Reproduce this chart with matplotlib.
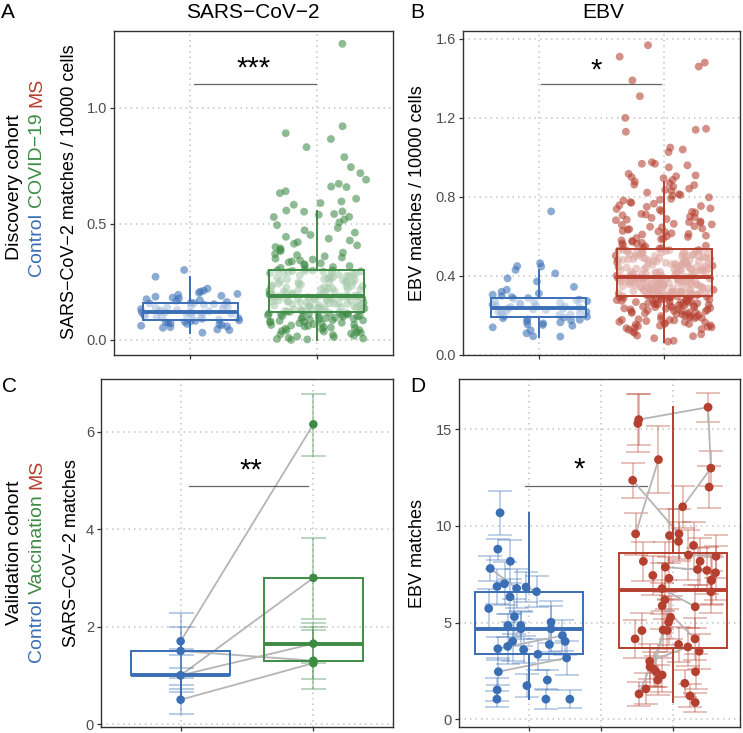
import numpy as np
import matplotlib
matplotlib.use("Agg")
import matplotlib.pyplot as plt

plt.rcParams['font.family'] = ['Liberation Sans', 'DejaVu Sans']

BLUE = "#3a6eb5"
GREEN = "#3d8b45"
RED = "#b5402f"

# ---------------- data ----------------
groups_disc = ["Control", "COVID\u221219", "MS"]
groups_val = ["Control", "Vaccination", "MS"]

a_ctrl = [0.031, 0.042, 0.045, 0.052, 0.055, 0.058, 0.061, 0.064, 0.066, 0.069, 0.071, 0.074, 0.076, 0.079, 0.080, 0.082, 0.084,
          0.088, 0.091, 0.094, 0.097, 0.099, 0.102, 0.104, 0.107, 0.109, 0.111, 0.113, 0.115, 0.116, 0.117, 0.118, 0.119,
          0.121, 0.124, 0.127, 0.129, 0.132, 0.135, 0.137, 0.140, 0.143, 0.146, 0.149, 0.152, 0.154, 0.157, 0.158, 0.160,
          0.163, 0.167, 0.171, 0.175, 0.178, 0.182, 0.186, 0.190, 0.194, 0.198, 0.203, 0.208, 0.212, 0.221, 0.272, 0.301]

a_covid = [0.000, 0.002, 0.004, 0.006, 0.009, 0.012, 0.015, 0.018, 0.021, 0.024, 0.027, 0.030, 0.033, 0.036, 0.038,
           0.041, 0.043, 0.046, 0.048, 0.051, 0.053, 0.055, 0.058, 0.060, 0.062, 0.064, 0.066, 0.068, 0.070, 0.072,
           0.074, 0.076, 0.078, 0.080, 0.082, 0.084, 0.085, 0.087, 0.089, 0.090, 0.092, 0.094, 0.095, 0.097, 0.098,
           0.100, 0.101, 0.103, 0.104, 0.106, 0.107, 0.109, 0.110, 0.112, 0.113, 0.114, 0.116, 0.117, 0.118, 0.119,
           0.121, 0.122, 0.124, 0.125, 0.126, 0.128, 0.129, 0.130, 0.131, 0.133, 0.134, 0.135, 0.137, 0.138, 0.139,
           0.140, 0.142, 0.143, 0.144, 0.146, 0.147, 0.148, 0.149, 0.151, 0.152, 0.153, 0.155, 0.156, 0.157, 0.158,
           0.160, 0.161, 0.162, 0.164, 0.165, 0.166, 0.167, 0.169, 0.170, 0.171, 0.173, 0.174, 0.175, 0.176, 0.178,
           0.179, 0.180, 0.181, 0.182, 0.183, 0.184, 0.185, 0.186, 0.187, 0.188, 0.189, 0.189, 0.190, 0.190, 0.191,
           0.193, 0.195, 0.196, 0.198, 0.200, 0.202, 0.203, 0.205, 0.207, 0.209, 0.210, 0.212, 0.214, 0.216, 0.218,
           0.219, 0.221, 0.223, 0.225, 0.227, 0.229, 0.231, 0.232, 0.234, 0.236, 0.238, 0.240, 0.242, 0.244, 0.246,
           0.248, 0.250, 0.252, 0.254, 0.256, 0.258, 0.260, 0.262, 0.264, 0.266, 0.268, 0.270, 0.272, 0.274, 0.276,
           0.278, 0.280, 0.282, 0.284, 0.286, 0.288, 0.290, 0.292, 0.294, 0.295, 0.296, 0.297, 0.298, 0.299, 0.300,
           0.305, 0.310, 0.314, 0.318, 0.322, 0.326, 0.330, 0.334, 0.338, 0.342, 0.346, 0.350, 0.355, 0.360, 0.365,
           0.370, 0.376, 0.382, 0.388, 0.394, 0.400, 0.407, 0.414, 0.421, 0.428, 0.436, 0.444, 0.452, 0.462, 0.472,
           0.482, 0.494, 0.506, 0.518, 0.530, 0.542, 0.552, 0.529, 0.539, 0.553, 0.557, 0.582, 0.589, 0.596, 0.608,
           0.632, 0.640, 0.658, 0.660, 0.672, 0.690, 0.718, 0.744, 0.787, 0.830, 0.865, 0.890, 0.920, 1.275]

b_ctrl = [0.093, 0.095, 0.110, 0.125, 0.140, 0.148, 0.152, 0.155, 0.160, 0.165, 0.170, 0.175, 0.178, 0.182, 0.186,
          0.190, 0.194, 0.198, 0.202, 0.206, 0.210, 0.213, 0.216, 0.219, 0.222, 0.225, 0.228, 0.231, 0.234, 0.237,
          0.240, 0.243, 0.246, 0.249, 0.252, 0.255, 0.258, 0.261, 0.264, 0.267, 0.270, 0.273, 0.276, 0.280, 0.284,
          0.288, 0.293, 0.298, 0.305, 0.312, 0.320, 0.330, 0.345, 0.372, 0.388, 0.413, 0.431, 0.448, 0.450, 0.465, 0.727]

b_ms = [0.068, 0.085, 0.095, 0.105, 0.118, 0.128, 0.136, 0.140, 0.143, 0.146, 0.150, 0.155, 0.158, 0.162, 0.165,
        0.168, 0.172, 0.175, 0.178, 0.181, 0.184, 0.187, 0.190, 0.193, 0.196, 0.199, 0.202, 0.205, 0.208, 0.211,
        0.213, 0.216, 0.219, 0.221, 0.224, 0.226, 0.229, 0.231, 0.234, 0.236, 0.238, 0.241, 0.243, 0.245, 0.248,
        0.250, 0.252, 0.254, 0.256, 0.258, 0.260, 0.262, 0.264, 0.266, 0.268, 0.270, 0.272, 0.274, 0.276, 0.278,
        0.280, 0.281, 0.283, 0.285, 0.286, 0.288, 0.289, 0.291, 0.292, 0.294, 0.295, 0.296, 0.297, 0.298, 0.299,
        0.072, 0.098, 0.112, 0.131, 0.139, 0.149, 0.157, 0.166, 0.177, 0.186, 0.197, 0.207, 0.215, 0.223, 0.233,
        0.242, 0.251, 0.259, 0.267, 0.277, 0.287, 0.293,
        0.301, 0.302, 0.304, 0.305, 0.306, 0.308, 0.309, 0.310, 0.312, 0.313, 0.314, 0.316, 0.317, 0.318, 0.320,
        0.321, 0.322, 0.324, 0.325, 0.327, 0.328, 0.330, 0.331, 0.333, 0.334, 0.336, 0.337, 0.339, 0.340, 0.342,
        0.343, 0.344, 0.346, 0.347, 0.349, 0.350, 0.352, 0.353, 0.354, 0.356, 0.357, 0.359, 0.360, 0.361, 0.363,
        0.364, 0.366, 0.367, 0.368, 0.370, 0.371, 0.372, 0.374, 0.375, 0.376, 0.378, 0.379, 0.380, 0.381, 0.383,
        0.384, 0.385, 0.386, 0.387, 0.388, 0.389, 0.390, 0.391, 0.392, 0.393, 0.393, 0.394, 0.395, 0.395, 0.396,
        0.303, 0.307, 0.311, 0.315, 0.319, 0.323, 0.329, 0.335, 0.341, 0.345, 0.351, 0.355, 0.358, 0.362, 0.365,
        0.369, 0.373, 0.377, 0.382, 0.386, 0.390, 0.394,
        0.398, 0.400, 0.402, 0.404, 0.406, 0.408, 0.410, 0.412, 0.414, 0.416, 0.418, 0.420, 0.421, 0.423, 0.425,
        0.427, 0.429, 0.431, 0.433, 0.435, 0.437, 0.438, 0.440, 0.442, 0.444, 0.446, 0.448, 0.450, 0.452, 0.454,
        0.455, 0.457, 0.459, 0.461, 0.463, 0.465, 0.467, 0.469, 0.471, 0.473, 0.474, 0.476, 0.478, 0.480, 0.482,
        0.484, 0.486, 0.488, 0.490, 0.491, 0.493, 0.495, 0.497, 0.499, 0.501, 0.503, 0.505, 0.507, 0.508, 0.510,
        0.512, 0.514, 0.516, 0.518, 0.520, 0.521, 0.523, 0.524, 0.526, 0.527, 0.529, 0.530, 0.531, 0.532, 0.533,
        0.399, 0.405, 0.411, 0.417, 0.422, 0.428, 0.434, 0.439, 0.445, 0.451, 0.456, 0.462, 0.468, 0.475, 0.481,
        0.487, 0.494, 0.500, 0.506, 0.513, 0.519, 0.525,
        0.538, 0.544, 0.550, 0.556, 0.562, 0.568, 0.574, 0.580, 0.586, 0.592, 0.598, 0.604, 0.610, 0.616, 0.622,
        0.628, 0.634, 0.640, 0.646, 0.652, 0.658, 0.664, 0.670, 0.676, 0.682, 0.688, 0.694, 0.700, 0.707, 0.714,
        0.721, 0.728, 0.735, 0.742, 0.750, 0.758, 0.766, 0.774, 0.782, 0.790, 0.798, 0.806, 0.814, 0.822, 0.832,
        0.842, 0.852, 0.860, 0.870, 0.878, 0.886, 0.895, 0.900, 0.905, 0.909, 0.917, 0.950, 0.960, 0.968, 0.968,
        0.976, 1.027, 1.040, 1.050, 1.130, 1.140, 1.145, 1.200, 1.310, 1.390, 1.460, 1.480, 1.510, 1.568, 0.862,
        0.541, 0.553, 0.565, 0.577, 0.589, 0.601, 0.613, 0.625, 0.637, 0.649, 0.661, 0.673, 0.685, 0.697, 0.711,
        0.725, 0.739, 0.754, 0.770, 0.786, 0.810, 0.836]

c_ctrl = [1.7, 1.0, 1.0, 1.5, 0.5]
c_ctrl_lo = [1.15, 0.72, 0.65, 0.95, 0.20]
c_ctrl_hi = [2.27, 1.55, 1.42, 2.00, 0.80]
c_vacc = [6.15, 3.0, 1.65, 1.3, 1.25]
c_vacc_lo = [5.50, 2.15, 1.25, 0.92, 0.71]
c_vacc_hi = [6.77, 3.82, 2.07, 2.00, 1.93]

d_ctrl = [10.68, 8.80, 8.17, 7.80, 7.01, 6.87, 6.84, 6.77, 6.60, 6.33,
          5.73, 5.31, 5.02, 4.85, 4.85, 4.68, 4.68, 4.33, 4.03, 4.03,
          3.87, 3.77, 3.65, 3.60, 3.36, 3.17, 2.46, 2.03, 1.74, 1.52,
          1.04, 1.04, 1.04]
d_ctrl_err = [1.15, 0.55, 1.1, 0.65, 1.1, 0.9, 0.8, 1.0, 0.8, 0.9,
              1.0, 0.9, 1.1, 0.6, 0.7, 1.2, 0.9, 0.8, 0.7, 1.0,
              0.8, 0.9, 0.6, 0.7, 0.8, 0.9, 0.7, 0.5, 0.6, 0.6,
              0.45, 0.5, 0.4]
d_ms = [16.14, 15.50, 15.30, 13.43, 12.99, 12.36, 12.01, 10.99, 9.59, 9.59,
        9.50, 9.20, 8.99, 8.50, 8.43, 8.17, 8.17, 7.87, 7.75, 7.70,
        7.58, 7.44, 7.29, 7.20, 7.18, 6.76, 6.59, 6.18, 5.87, 5.82,
        5.27, 5.02, 4.62, 4.59, 4.59, 4.16, 4.16, 3.87, 3.74, 3.52,
        3.00, 2.71, 2.59, 2.46, 2.46, 2.29, 2.03, 1.86, 1.57, 1.31,
        1.21, 0.87]
d_ms_err = [0.75, 1.3, 1.5, 1.75, 0.9, 0.9, 1.1, 1.1, 1.1, 1.3,
            1.4, 1.0, 1.2, 1.3, 1.1, 1.0, 1.2, 1.3, 1.1, 1.2,
            1.4, 1.0, 1.1, 1.3, 1.2, 1.3, 1.1, 1.0, 1.2, 1.1,
            1.1, 1.2, 1.0, 1.1, 0.9, 1.0, 1.1, 0.9, 1.0, 0.9,
            0.9, 1.0, 0.9, 0.8, 0.9, 0.9, 0.8, 0.7, 0.8, 0.6,
            0.6, 0.5]
# repeated-sample links (index pairs within group)
d_ctrl_links = [(3, 7), (8, 6), (26, 25), (17, 22), (14, 19)]
d_ms_links = [(3, 8), (0, 4), (0, 1), (4, 7), (5, 9), (17, 19), (25, 29), (38, 40),
              (40, 46), (32, 42), (49, 31), (28, 36), (13, 14)]

sig_labels = ["***", "*", "**", "*"]

# ---------------- figure ----------------
W, H = 743, 733
fig = plt.figure(figsize=(W / 100, H / 100), dpi=100)


def axes_px(left, top, right, bottom):
    return fig.add_axes([left / W, 1 - bottom / H, (right - left) / W, (bottom - top) / H])


axA = axes_px(114, 31, 393, 355)
axB = axes_px(463, 31, 740, 355)
axC = axes_px(101, 379, 393, 727)
axD = axes_px(459, 379, 740, 727)


def style(ax, xlim, ylim, yticks, yticklabels, xticks):
    ax.set_xlim(*xlim)
    ax.set_ylim(*ylim)
    ax.set_yticks(yticks)
    ax.set_yticklabels(yticklabels)
    ax.set_xticks(xticks)
    ax.set_xticklabels([])
    ax.set_axisbelow(True)
    ax.grid(True, color='#c4c4c4', linestyle=(0, (1, 2.6)), linewidth=1.1)
    for s in ax.spines.values():
        s.set_color('#333333')
        s.set_linewidth(1.0)
    ax.tick_params(axis='both', length=3, width=0.9, color='#333333')
    ax.tick_params(axis='x', labelbottom=False)
    ax.tick_params(axis='y', labelsize=10.5, labelcolor='#4d4d4d', pad=2)


rng = np.random.default_rng(7)


def jitter(n, width):
    # horizontal jitter (position only, like geom_jitter)
    return rng.uniform(-width, width, n)


def box(ax, data, pos, color, fill, whis=1.5, width=0.75):
    ax.boxplot([data], positions=[pos], widths=width, whis=whis, patch_artist=True,
               showcaps=False, showfliers=False, zorder=3,
               boxprops=dict(facecolor=fill, edgecolor=color, linewidth=1.4),
               medianprops=dict(color=color, linewidth=2.8, solid_capstyle='butt'),
               whiskerprops=dict(color=color, linewidth=1.4))


# Panel A
for vals, pos, col in [(a_ctrl, 1, BLUE), (a_covid, 2, GREEN)]:
    axA.scatter(pos + jitter(len(vals), 0.39), vals, s=32, color=col, alpha=0.58,
                edgecolors='none', zorder=2)
    box(axA, vals, pos, col, (1, 1, 1, 0.55))
axA.plot([1.03, 1.99], [1.10, 1.10], color='#666666', lw=0.9)
axA.text(1.5, 1.17, sig_labels[0], ha='center', va='center', fontsize=21)
style(axA, (0.4, 2.6), (-0.065, 1.33), [0.0, 0.5, 1.0], ["0.0", "0.5", "1.0"], [1, 2])

# Panel B
for vals, pos, col in [(b_ctrl, 1, BLUE), (b_ms, 2, RED)]:
    axB.scatter(pos + jitter(len(vals), 0.39), vals, s=32, color=col, alpha=0.58,
                edgecolors='none', zorder=2)
    box(axB, vals, pos, col, (1, 1, 1, 0.55))
axB.plot([1.02, 1.97], [1.37, 1.37], color='#666666', lw=0.9)
axB.text(1.46, 1.44, sig_labels[1], ha='center', va='center', fontsize=21)
style(axB, (0.4, 2.6), (0.0, 1.64), [0.0, 0.4, 0.8, 1.2, 1.6], ["0.0", "0.4", "0.8", "1.2", "1.6"], [1, 2])

# Panel C
for a, b in zip(c_ctrl, c_vacc):
    axC.plot([1, 2], [a, b], color='#b5b5b5', lw=1.3, zorder=2)
for vals, lo, hi, pos, col in [(c_ctrl, c_ctrl_lo, c_ctrl_hi, 1, BLUE),
                               (c_vacc, c_vacc_lo, c_vacc_hi, 2, GREEN)]:
    v = np.array(vals)
    axC.errorbar(np.full(len(v), pos), v, yerr=[v - np.array(lo), np.array(hi) - v], fmt='none',
                 ecolor=col, alpha=0.35, elinewidth=1.4, capsize=9, capthick=1.4, zorder=2)
    box(axC, vals, pos, col, 'none')
    axC.scatter(np.full(len(v), pos), v, s=38, color=col, edgecolors='none', zorder=4)
axC.plot([1.06, 1.96], [4.88, 4.88], color='#666666', lw=0.9)
axC.text(1.53, 5.2, sig_labels[2], ha='center', va='center', fontsize=21)
style(axC, (0.4, 2.6), (-0.06, 7.08), [0, 2, 4, 6], ["0", "2", "4", "6"], [1, 2])

# Panel D
for vals, err, links, pos, col in [(d_ctrl, d_ctrl_err, d_ctrl_links, 1, BLUE),
                                   (d_ms, d_ms_err, d_ms_links, 2, RED)]:
    v = np.array(vals)
    xs = pos + jitter(len(v), 0.3)
    axD.errorbar(xs, v, yerr=err, fmt='none', ecolor=col, alpha=0.35, elinewidth=1.3,
                 capsize=8.5, capthick=1.3, zorder=2)
    for i, j in links:
        axD.plot([xs[i], xs[j]], [v[i], v[j]], color='#b5b5b5', lw=1.3, zorder=2.5)
    box(axD, vals, pos, col, 'none', whis=1.6)
    axD.scatter(xs, v, s=40, color=col, edgecolors='none', zorder=4)
axD.plot([0.97, 1.82], [12.08, 12.08], color='#666666', lw=0.9)
axD.text(1.35, 12.9, sig_labels[3], ha='center', va='center', fontsize=21)
style(axD, (0.514, 2.465), (-0.4, 17.6), [0, 5, 10, 15], ["0", "5", "10", "15"], [1, 1.5, 2])

# ---------------- texts ----------------
def ftext(xp, yp, s, **kw):
    return fig.text(xp / W, 1 - yp / H, s, **kw)


ftext(253, 13, "SARS\u2212CoV\u22122", ha='center', va='center', fontsize=15)
ftext(603, 13, "EBV", ha='center', va='center', fontsize=15)
for lab, xp, yp in [("A", 1, 12), ("B", 410, 12), ("C", 2, 387), ("D", 410, 387)]:
    ftext(xp, yp, lab, ha='left', va='center', fontsize=15)

ftext(70, 192, "SARS\u2212CoV\u22122 matches / 10000 cells", rotation=90, ha='center', va='center', fontsize=13)
ftext(418, 193, "EBV matches / 10000 cells", rotation=90, ha='center', va='center', fontsize=13)
ftext(72, 553, "SARS\u2212CoV\u22122 matches", rotation=90, ha='center', va='center', fontsize=13)
ftext(418, 553, "EBV matches", rotation=90, ha='center', va='center', fontsize=13)

ftext(15, 187, "Discovery cohort", rotation=90, ha='center', va='center', fontsize=14)
ftext(15, 553, "Validation cohort", rotation=90, ha='center', va='center', fontsize=14)

fig.canvas.draw()
renderer = fig.canvas.get_renderer()


def colored_vertical(xp, yc, words, colors, fontsize=14, gap=5.5):
    texts = [ftext(xp, 0, w, rotation=90, ha='center', va='center', fontsize=fontsize, color=c)
             for w, c in zip(words, colors)]
    hs = [t.get_window_extent(renderer).height for t in texts]
    total = sum(hs) + gap * (len(hs) - 1)
    y = yc + total / 2  # bottom (in px from top)
    for t, h in zip(texts, hs):
        t.set_position((xp / W, 1 - (y - h / 2) / H))
        y -= h + gap


colored_vertical(37, 177, groups_disc, [BLUE, GREEN, RED])
colored_vertical(37, 561, groups_val, [BLUE, GREEN, RED])

fig.savefig("out.png", dpi=100)
